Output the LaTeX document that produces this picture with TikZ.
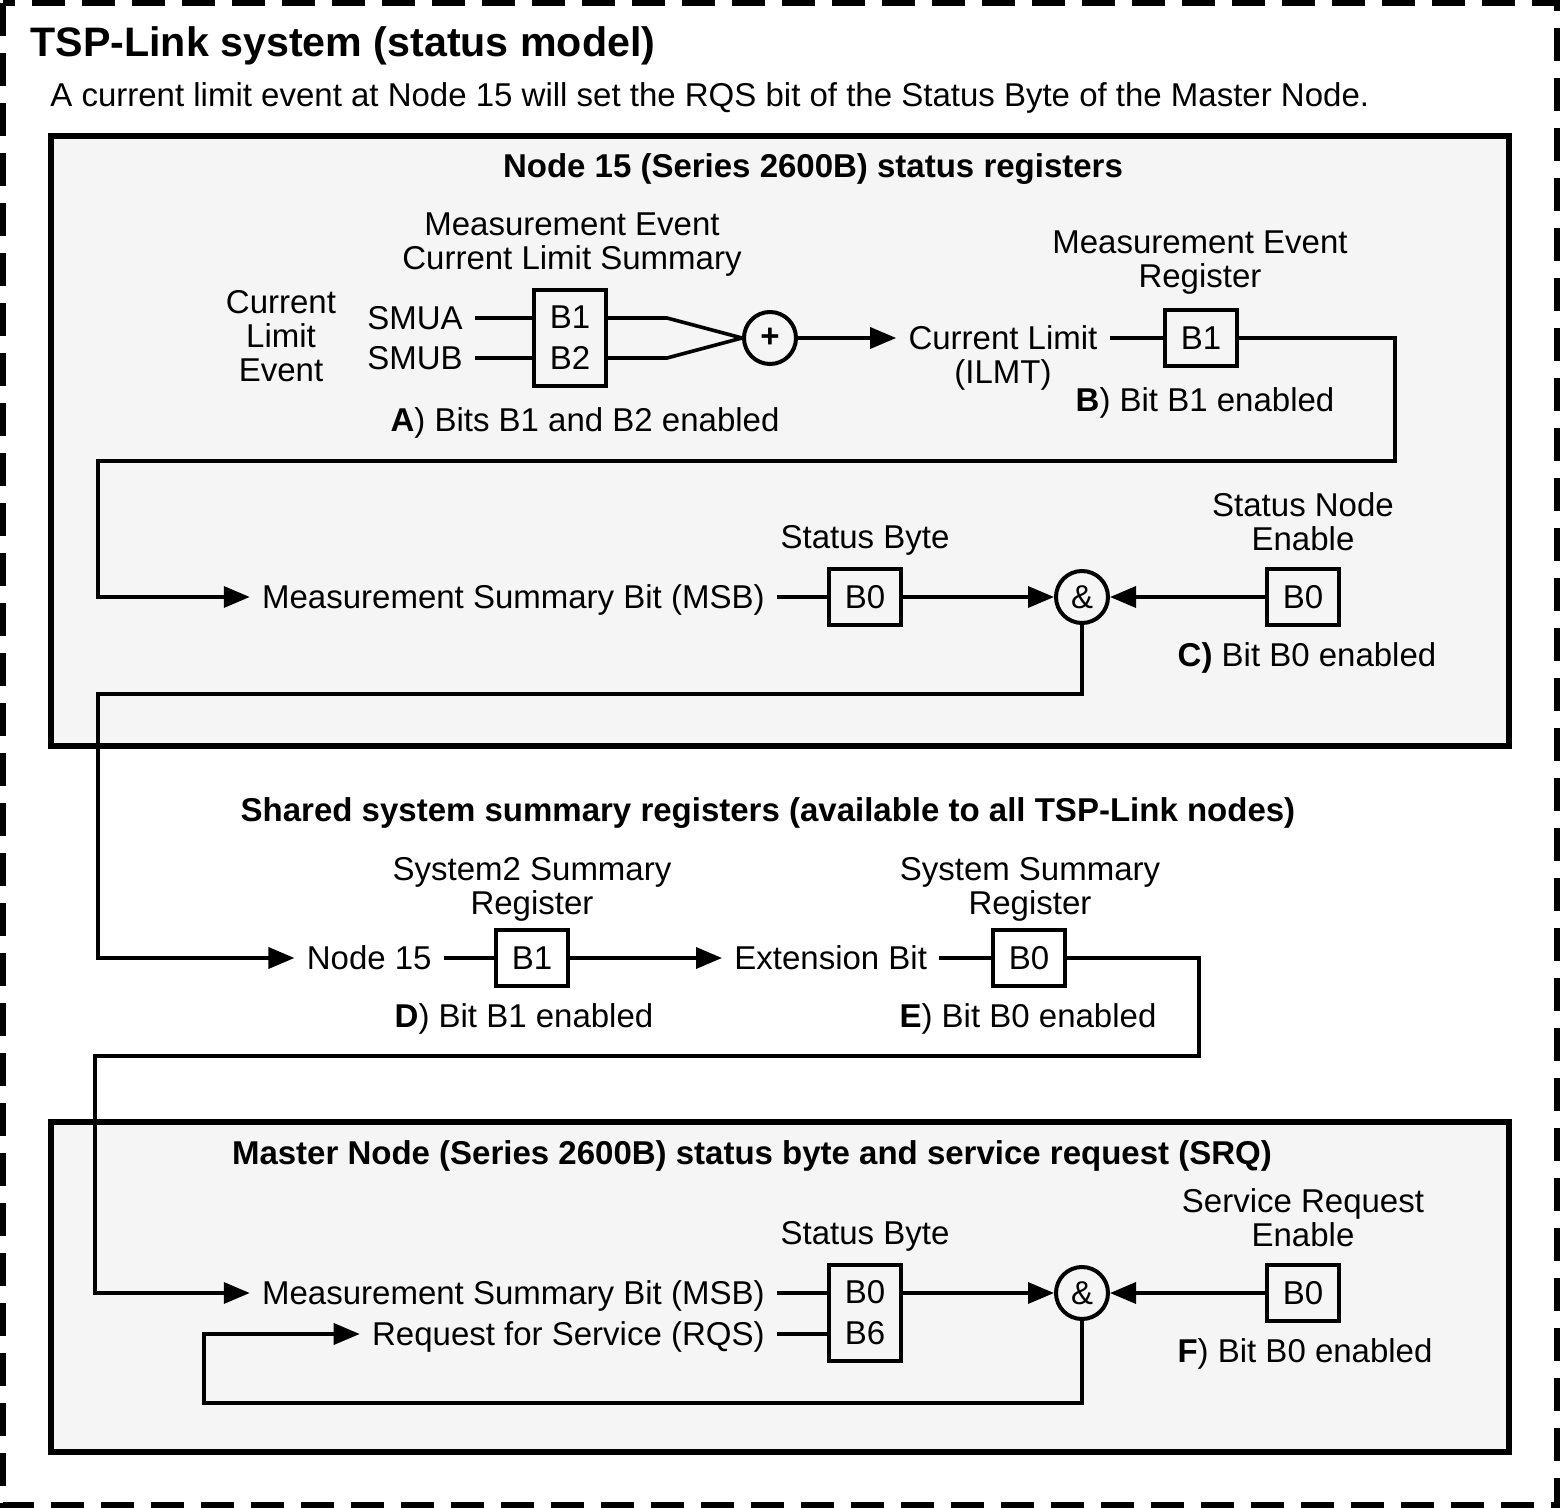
\documentclass[tikz,border=0pt]{standalone}
\usepackage{fontspec}
\setmainfont{Liberation Sans}
\usetikzlibrary{arrows.meta}

\definecolor{panelgray}{HTML}{F5F5F5}
\newcommand{\bodysize}{\fontsize{16.5}{17}\selectfont}
\newcommand{\titlesize}{\fontsize{20.6}{24}\selectfont}

\tikzset{
  wire/.style={line width=1.8pt},
  flow/.style={wire, -{Triangle[length=13pt,width=10.5pt]}},
  lbl/.style={font=\bodysize, text height=11.8pt, text depth=0pt, inner sep=6pt},
  note/.style={font=\bodysize, align=center, inner sep=0pt},
  panelhead/.style={font=\bodysize\bfseries, text height=11.8pt, text depth=0pt, inner sep=0pt},
  regbox/.style={draw, line width=2pt, font=\fontsize{16.5}{20.5}\selectfont, align=center,
                 minimum width=36pt, minimum height=28pt, inner sep=0pt},
  gate/.style={draw, circle, line width=2pt, minimum size=26pt, inner sep=0pt, font=\bodysize},
  panel/.style={draw, line width=3.2pt, fill=panelgray},
}

\begin{document}
\begin{tikzpicture}[x=0.5pt, y=-0.5pt]
    \useasboundingbox (0,0) rectangle (1560,1508);

    % Outer dashed frame
    \draw[line width=3.2pt, dash pattern=on 16.5pt off 8.5pt] (3,3) rectangle (1557,1505);

    % Panels (drawn first so the wires run over them)
    \draw[panel] (51,136) rectangle (1509,746);
    \draw[panel] (51,1122) rectangle (1509,1452);

    % Title
    \node[anchor=west, font=\titlesize\bfseries, text height=14.8pt, text depth=0pt, inner sep=0pt] (title) at (30,42) {TSP-Link system (status model)};
    \node[lbl, anchor=west, inner sep=0pt] (intro) at (50,95) {A current limit event at Node 15 will set the RQS bit of the Status Byte of the Master Node.};

    % Node 15 status registers
    \node[panelhead] (nodehead) at (813,166) {Node 15 (Series 2600B) status registers};

    \node[note] (clevent) at (281,336) {Current\\Limit\\Event};
    \node[note] (mecls) at (572,245) {Measurement Event\\Current Limit Summary};
    \node[lbl, anchor=east] (smua) at (475,318) {SMUA};
    \node[lbl, anchor=east] (smub) at (475,358) {SMUB};
    \node[regbox, minimum height=48pt] (regA) at (570,338) {B1\\B2};
    \node[lbl] (noteA) at (585,420) {\textbf{A}) Bits B1 and B2 enabled};
    \node[gate, font=\bodysize\bfseries] (orgate) at (770,338) {+};
    \node[lbl] (ilmt) at (1003,338) {Current Limit};
    \node[lbl] (ilmtb) at (1003,372) {(ILMT)};
    \node[note] (mer) at (1200,263) {Measurement Event\\Register};
    \node[regbox] (regB) at (1201,338) {B1};
    \node[lbl] (noteB) at (1205,400) {\textbf{B}) Bit B1 enabled};

    \node[lbl, anchor=east] (msbA) at (777,597) {Measurement Summary Bit (MSB)};
    \node[lbl] (sbA) at (865,537) {Status Byte};
    \node[regbox] (regSBA) at (865,597) {B0};
    \node[gate] (andA) at (1082,597) {\&};
    \node[regbox] (regC) at (1303,597) {B0};
    \node[note] (sne) at (1303,522) {Status Node\\Enable};
    \node[lbl] (noteC) at (1307,655) {\textbf{C)} Bit B0 enabled};

    \draw[wire] (smua.east) -- (smua -| regA.west);
    \draw[wire] (smub.east) -- (smub -| regA.west);
    \draw[wire] (smua -| regA.east) -- ++(59,0) -- (orgate.west);
    \draw[wire] (smub -| regA.east) -- ++(59,0) -- (orgate.west);
    \draw[flow] (orgate) -- (ilmt);
    \draw[wire] (ilmt) -- (regB);
    \draw[flow] (regB.east) -- (1395,338) -- (1395,461) -- (98,461) -- (98,597) -- (msbA.west);
    \draw[wire] (msbA) -- (regSBA);
    \draw[flow] (regSBA) -- (andA);
    \draw[flow] (regC) -- (andA);

    % Shared system summary registers
    \node[panelhead] (sharedhead) at (768,810) {Shared system summary registers (available to all TSP-Link nodes)};
    \node[note] (s2sr) at (532,889) {System2 Summary\\Register};
    \node[lbl, anchor=east] (node15) at (444,958) {Node 15};
    \node[regbox] (regD) at (532,958) {B1};
    \node[lbl, anchor=west] (extbit) at (722,958) {Extension Bit};
    \node[regbox] (regE) at (1029,958) {B0};
    \node[note] (ssr) at (1030,889) {System Summary\\Register};
    \node[lbl] (noteD) at (524,1016) {\textbf{D}) Bit B1 enabled};
    \node[lbl] (noteE) at (1028,1016) {\textbf{E}) Bit B0 enabled};

    \draw[flow] (andA.south) -- (1082,694) -- (98,694) -- (98,958) -- (node15.west);
    \draw[wire] (node15) -- (regD);
    \draw[flow] (regD) -- (extbit);
    \draw[wire] (extbit) -- (regE);

    % Master Node status byte and SRQ
    \node[panelhead] (masterhead) at (752,1153) {Master Node (Series 2600B) status byte and service request (SRQ)};
    \node[lbl] (sbB) at (865,1233) {Status Byte};
    \node[lbl, anchor=east] (msbB) at (777,1293) {Measurement Summary Bit (MSB)};
    \node[lbl, anchor=east] (rqs) at (777,1334) {Request for Service (RQS)};
    \node[regbox, minimum height=48pt] (regSBB) at (865,1313) {B0\\B6};
    \node[gate] (andB) at (1082,1293) {\&};
    \node[regbox] (regF) at (1303,1293) {B0};
    \node[note] (sre) at (1303,1218) {Service Request\\Enable};
    \node[lbl] (noteF) at (1305,1351) {\textbf{F}) Bit B0 enabled};

    \draw[flow] (regE.east) -- (1199,958) -- (1199,1056) -- (95,1056) -- (95,1293) -- (msbB.west);
    \draw[wire] (msbB.east) -- (msbB -| regSBB.west);
    \draw[wire] (rqs.east) -- (rqs -| regSBB.west);
    \draw[flow] (msbB -| regSBB.east) -- (andB);
    \draw[flow] (regF) -- (andB);
    \draw[flow] (andB.south) -- (1082,1403) -- (204,1403) -- (204,1334) -- (rqs.west);
\end{tikzpicture}
\end{document}
